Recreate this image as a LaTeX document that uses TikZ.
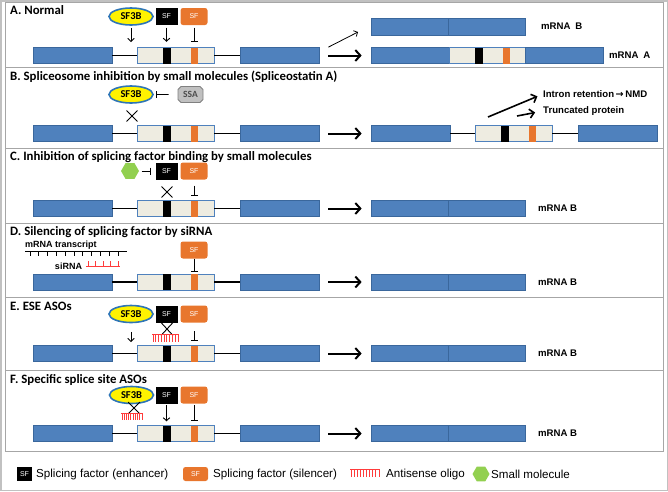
\documentclass[tikz,border=0pt]{standalone}
\usepackage{fontspec}
\setmainfont{Carlito}
\newfontfamily\arialfont{Liberation Sans}
\newfontfamily\symfont{DejaVu Sans}
\usetikzlibrary{arrows.meta,shapes.geometric,shapes.misc}
\definecolor{exonblue}{HTML}{4F81BD}
\definecolor{exonedge}{HTML}{3A679C}
\definecolor{introncream}{HTML}{EEECE1}
\definecolor{sforange}{HTML}{E8762D}
\definecolor{panelgray}{HTML}{A6A6A6}
\definecolor{ssagray}{HTML}{C0C0C0}
\definecolor{smallgreen}{HTML}{92D050}
\definecolor{asored}{HTML}{FF3B3B}
\definecolor{sfborder}{HTML}{2E75B6}
\newcommand{\premrna}[3]{%
  \node[exon] (#1e1) at (#2+72.5,#3) {};
  \node[cream] (#1in) at (#2+175.5,#3) {};
  \node[exon] (#1e2) at (#2+279.5,#3) {};
  \node[band,fill=black] (#1blk) at (#2+166.5,#3) {};
  \node[band,fill=sforange,minimum width=7] (#1org) at (#2+194,#3) {};
  \draw[intron] (#1e1) -- (#1in);
  \draw[intron] (#1in) -- (#1e2);
}
\newcommand{\mrnab}[2]{%
  \node[exon,minimum width=77] (#1r1) at (409.5,#2) {};
  \node[exon,minimum width=77] (#1r2) at (486.5,#2) {};
  \node[mlabel] (#1lab) at (538,#2) {mRNA B};
}
\newcommand{\aso}[4]{%
  \draw[asoline] (#1,#3) -- (#2,#3);
  \foreach \k in {0,...,9}
    \draw[asoline] ({#1+1+\k*(#2-#1-2)/9},#3) -- ++(0,#4);
}

\begin{document}
\begin{tikzpicture}[x=1pt,y=-1pt,
    >={Straight Barb[length=3pt,width=6.5pt]},
    panel/.style={draw=panelgray,line width=0.9pt},
    title/.style={anchor=west,inner sep=0pt,font=\fontsize{12.8}{14}\selectfont\bfseries},
    exon/.style={draw=exonedge,fill=exonblue,line width=0.7pt,minimum width=79,minimum height=16,inner sep=0pt},
    cream/.style={draw=exonblue,fill=introncream,line width=0.9pt,minimum width=77,minimum height=16,inner sep=0pt},
    band/.style={minimum width=8,minimum height=16,inner sep=0pt},
    intron/.style={line width=1.3pt},
    sfthreeb/.style={ellipse,draw=sfborder,line width=1.6pt,fill=yellow,minimum width=44,minimum height=17,inner sep=0pt,font=\fontsize{10.5}{11}\selectfont\bfseries},
    enh/.style={fill=black,text=white,minimum width=22,minimum height=17,inner sep=0pt,font=\arialfont\fontsize{7}{8}\selectfont},
    sil/.style={fill=sforange,text=white,rounded corners=2.5pt,minimum width=27,minimum height=17,inner sep=0pt,font=\arialfont\fontsize{7}{8}\selectfont},
    ssa/.style={chamfered rectangle,chamfered rectangle xsep=1.5pt,chamfered rectangle ysep=1.5pt,draw=gray,fill=ssagray,line width=0.8pt,minimum width=25,minimum height=16,inner sep=0pt,text=black!70,font=\fontsize{9.5}{10}\selectfont\bfseries},
    hexa/.style={regular polygon,regular polygon sides=6,fill=smallgreen,minimum size=18,inner sep=0pt},
    nox/.style={cross out,draw,line width=0.9pt,minimum width=10,minimum height=10,inner sep=0pt},
    act/.style={->,line width=0.9pt},
    inh/.style={-{Bar[width=7pt]},line width=0.9pt},
    mainarr/.style={-{Straight Barb[length=5pt,width=11pt]},line width=2pt,shorten <=9pt,shorten >=9pt},
    outarr/.style={-{Straight Barb[length=4.5pt,width=9pt]},line width=1.6pt},
    mlabel/.style={anchor=west,inner sep=0pt,font=\arialfont\bfseries\fontsize{9.6}{11}\selectfont},
    mtext/.style={inner sep=0pt,font=\arialfont\bfseries\fontsize{9}{10}\selectfont},
    legtext/.style={anchor=west,inner sep=0pt,font=\arialfont\fontsize{11.6}{13}\selectfont},
    asoline/.style={draw=asored,line width=0.8pt}
  ]
  \useasboundingbox (0,0) rectangle (668,491);
  \draw[draw=panelgray!70,line width=1.5pt] (0.75,0.75) rectangle (667.25,490.25);
  \draw[panel] (5,2) rectangle (663,67);
  \draw[panel] (5,67) rectangle (663,148);
  \draw[panel] (5,148) rectangle (663,223);
  \draw[panel] (5,223) rectangle (663,297);
  \draw[panel] (5,297) rectangle (663,370);
  \draw[panel] (5,370) rectangle (663,451);

  % A
  \node[title] (ta) at (10,10.5) {A. Normal};
  \node[sfthreeb] (a-sf3b) at (131,16.5) {SF3B};
  \node[enh] (a-sfe) at (166.5,16.5) {SF};
  \node[sil] (a-sfs) at (194,16.5) {SF};
  \premrna{a-}{0}{55.5}
  \coordinate (a-bp) at (131,42);
  \draw[act,shorten <=2.5pt] (a-sf3b) -- (a-bp);
  \draw[act,shorten <=2.5pt,shorten >=5.5pt] (a-sfe) -- (a-blk);
  \draw[inh,shorten <=2.5pt,shorten >=5.5pt] (a-sfs) -- (a-org);
  \node[exon,minimum width=77,minimum height=17] (a-b1) at (409.5,26.5) {};
  \node[exon,minimum width=77,minimum height=17] (a-b2) at (486.5,26.5) {};
  \node[mlabel] (a-lb) at (541,26.5) {mRNA\enspace B};
  \node[exon,minimum width=78] (a-m1) at (410,55.5) {};
  \node[cream,minimum width=76] (a-m2) at (487,55.5) {};
  \node[exon,minimum width=78] (a-m3) at (564,55.5) {};
  \node[band,fill=black] (a-mblk) at (478.5,55.5) {};
  \node[band,fill=sforange,minimum width=7] (a-morg) at (506.5,55.5) {};
  \node[mlabel] (a-la) at (609,55.5) {mRNA\enspace A};
  \draw[mainarr] (a-e2) -- (a-m1);
  \coordinate (a-up) at (358,32);
  \draw[->,line width=0.8pt] ([xshift=9pt]a-e2.north east) -- (a-up);

  % B
  \node[title] (tb) at (10,77) {B. Spliceosome inhibition by small molecules (Spliceostatin A)};
  \node[sfthreeb] (b-sf3b) at (131,94.5) {SF3B};
  \node[ssa] (b-ssa) at (190.5,94.5) {SSA};
  \draw[inh,shorten <=9pt,shorten >=2.5pt] (b-ssa) -- (b-sf3b);
  \node[nox] (b-x) at (132,116) {};
  \premrna{b-}{0}{133.5}
  \premrna{b-o}{338}{133.5}
  \draw[mainarr] (b-e2) -- (b-oe1);
  \node[mlabel] (b-ir) at (543,94) {Intron retention\,{\symfont→}\,NMD};
  \node[mlabel] (b-tp) at (543,111) {Truncated protein};
  \coordinate (b-tail) at (488,117);
  \coordinate (b-tail2) at (517,116);
  \draw[outarr,shorten >=6pt] (b-tail) -- (b-ir.west);
  \draw[outarr,shorten >=8pt] (b-tail2) -- (b-tp.west);

  % C
  \node[title] (tc) at (10,157.5) {C. Inhibition of splicing factor binding by small molecules};
  \node[hexa] (c-mol) at (130,171) {};
  \node[enh] (c-sfe) at (166.5,171) {SF};
  \node[sil] (c-sfs) at (194,171) {SF};
  \draw[inh,shorten <=2.5pt,shorten >=4pt] (c-mol) -- (c-sfe);
  \node[nox] (c-x) at (167,192) {};
  \premrna{c-}{0}{208.5}
  \draw[inh,shorten <=6pt,shorten >=4.5pt] (c-sfs) -- (c-org);
  \mrnab{c-}{208.5}
  \draw[mainarr] (c-e2) -- (c-r1);

  % D
  \node[title] (td) at (10,232) {D. Silencing of splicing factor by siRNA};
  \node[mtext] (d-tr) at (61,245) {mRNA transcript};
  \draw[line width=0.9pt] (25,251) -- (127,251);
  \foreach \k in {0,...,10}
    \draw[line width=0.8pt] ({30+\k*8.8},251) -- ++(0,4.5);
  \node[mtext] (d-si) at (68.5,266.5) {siRNA};
  \draw[asoline,line width=0.9pt] (86,266) -- (120,266);
  \foreach \k in {0,...,4}
    \draw[asoline] ({88+\k*7.5},266) -- ++(0,-5);
  \node[sil] (d-sfs) at (194,250) {SF};
  \premrna{d-}{0}{282}
  \draw[inh,shorten >=2pt] (d-sfs) -- (d-org);
  \mrnab{d-}{282}
  \draw[mainarr] (d-e2) -- (d-r1);

  % E
  \node[title] (te) at (10,306) {E. ESE ASOs};
  \node[sfthreeb] (e-sf3b) at (131,314) {SF3B};
  \node[enh] (e-sfe) at (166.5,314) {SF};
  \node[sil] (e-sfs) at (194,314) {SF};
  \node[nox,minimum width=11,minimum height=12] (e-x) at (167,329) {};
  \aso{152}{179}{334}{8}
  \premrna{e-}{0}{353.5}
  \coordinate (e-bp) at (131,342);
  \draw[act,shorten <=8.5pt] (e-sf3b) -- (e-bp);
  \draw[inh,shorten <=8.5pt,shorten >=4pt] (e-sfs) -- (e-org);
  \mrnab{e-}{353.5}
  \draw[mainarr] (e-e2) -- (e-r1);

  % F
  \node[title] (tf) at (10,380) {F. Specific splice site ASOs};
  \node[sfthreeb] (f-sf3b) at (131.5,395) {SF3B};
  \node[enh] (f-sfe) at (166.5,395) {SF};
  \node[sil] (f-sfs) at (194,395) {SF};
  \node[nox,minimum width=11,minimum height=11] (f-x) at (134,408) {};
  \aso{121}{143}{413}{7}
  \premrna{f-}{0}{433.5}
  \draw[act,shorten <=1.5pt,shorten >=4pt] (f-sfe) -- (f-blk);
  \draw[inh,shorten <=1.5pt,shorten >=4pt] (f-sfs) -- (f-org);
  \mrnab{f-}{433.5}
  \draw[mainarr] (f-e2) -- (f-r1);

  % legend
  \node[enh,minimum width=15,minimum height=14] (l-sfe) at (24.5,474) {SF};
  \node[legtext] (l-te) at (36,474) {Splicing factor (enhancer)};
  \node[sil,minimum width=25,minimum height=14] (l-sfs) at (195.5,474) {SF};
  \node[legtext] (l-ts) at (213,474) {Splicing factor (silencer)};
  \aso{350}{380}{469}{8}
  \node[legtext] (l-ta) at (386,474) {Antisense oligo};
  \node[hexa,minimum size=17] (l-mol) at (481,474) {};
  \node[legtext] (l-tm) at (491,474) {Small molecule};
\end{tikzpicture}
\end{document}
